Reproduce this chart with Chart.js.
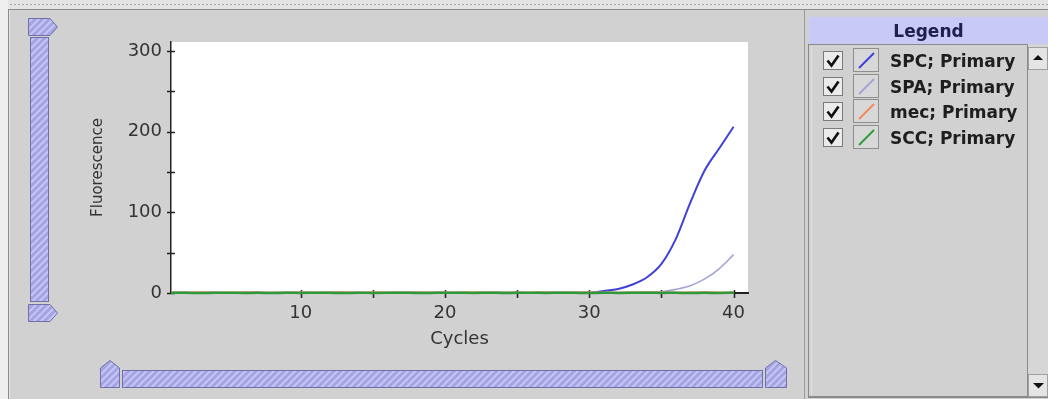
<!DOCTYPE html>
<html><head><meta charset="utf-8">
<script src="https://cdn.jsdelivr.net/npm/chart.js@4.4.0/dist/chart.umd.min.js"></script>
<style>
html,body{margin:0;padding:0;width:1048px;height:399px;overflow:hidden;background:#d1d1d1;}
#chrome{position:absolute;left:0;top:0;}
#c{position:absolute;left:0;top:0;}
.lg{position:absolute;font-family:"DejaVu Sans";font-weight:bold;font-size:17px;color:#1e1e1e;white-space:nowrap;line-height:20px;}
</style></head><body>
<svg id="chrome" width="1048" height="399" xmlns="http://www.w3.org/2000/svg">
<defs>
<pattern id="h" width="5" height="5" patternUnits="userSpaceOnUse" patternTransform="rotate(45)">
<rect width="5" height="5" fill="#a4a4e4"/><rect width="2" height="5" fill="#c6c6f4"/></pattern>
</defs>
<rect x="0" y="0" width="1048" height="9" fill="#e4e4e4"/>
<line x1="10" y1="4.5" x2="1048" y2="4.5" stroke="#a6a6a6" stroke-dasharray="2,2"/>
<rect x="0" y="0" width="8" height="399" fill="#efefef"/>
<line x1="8.5" y1="9" x2="8.5" y2="399" stroke="#8c8c8c"/>
<line x1="8" y1="9.5" x2="1048" y2="9.5" stroke="#8c8c8c"/>
<line x1="9.5" y1="10" x2="9.5" y2="399" stroke="#e4e4e4"/>
<!-- vertical scroller -->
<polygon points="28.5,18.5 50,18.5 57.5,27 50,35.5 28.5,35.5" fill="url(#h)" stroke="#7070a6"/>
<rect x="30.5" y="37.5" width="18" height="264" fill="url(#h)" stroke="#7070a6"/>
<polygon points="28.5,304.5 50,304.5 57.5,313 50,321.5 28.5,321.5" fill="url(#h)" stroke="#7070a6"/>
<!-- horizontal scroller -->
<polygon points="100.5,368 110,360.5 119.5,368 119.5,387.5 100.5,387.5" fill="url(#h)" stroke="#7070a6"/>
<rect x="122.5" y="370.5" width="640" height="17" fill="url(#h)" stroke="#7070a6"/>
<polygon points="765.5,368 775.5,360.5 786.5,368 786.5,387.5 765.5,387.5" fill="url(#h)" stroke="#7070a6"/>
<!-- legend panel -->
<line x1="804.5" y1="10" x2="804.5" y2="399" stroke="#9a9a9a"/>
<rect x="809" y="17" width="239" height="27" fill="#c9c9f7"/>
<rect x="808.5" y="44.5" width="219" height="352" fill="#d1d1d1" stroke="#8a8a8a"/>
<line x1="811.5" y1="46" x2="811.5" y2="395" stroke="#e2e2e2"/>
<rect x="1028" y="45" width="20" height="352" fill="#d6d6d6"/>
<line x1="1027.5" y1="45" x2="1027.5" y2="397" stroke="#8a8a8a"/>
<rect x="1028.5" y="47.5" width="19" height="22" fill="#e4e4e4" stroke="#a0a0a0"/>
<polygon points="1033,60 1043,60 1038,55" fill="#111"/>
<rect x="1028.5" y="374.5" width="19" height="22" fill="#e4e4e4" stroke="#a0a0a0"/>
<polygon points="1033,383 1044,383 1038.5,388.5" fill="#111"/>
<line x1="808" y1="397.5" x2="1048" y2="397.5" stroke="#8a8a8a"/>
<g id="rows"></g>
</svg>
<canvas id="c" width="1048" height="399"></canvas>
<div class="lg" style="left:809px;width:239px;text-align:center;top:21px;color:#20204e;">Legend</div>
<div class="lg" style="left:890px;top:51px;">SPC; Primary</div>
<div class="lg" style="left:890px;top:77px;">SPA; Primary</div>
<div class="lg" style="left:890px;top:102px;">mec; Primary</div>
<div class="lg" style="left:890px;top:128px;">SCC; Primary</div>
<script>
const cycles = [1,2,3,4,5,6,7,8,9,10,11,12,13,14,15,16,17,18,19,20,21,22,23,24,25,26,27,28,29,30,31,32,33,34,35,36,37,38,39,40];
const spc = [0.2,0.4,0.1,0.3,0,0.2,0.4,0.1,0.3,0.2,0.1,0.3,0.4,0.2,0,0.1,0.3,0.2,0.4,0.1,0.2,0,0.3,0.4,0.2,0.1,0.3,0.2,0.4,0.6,2.5,5,10.5,19.5,36,67,112,152,179,206];
const spa = [0.3,0.1,0.2,0.4,0.1,0,0.2,0.3,0.1,0.4,0.2,0.1,0.3,0,0.2,0.4,0.1,0.2,0.3,0.1,0.4,0.2,0,0.1,0.3,0.2,0.4,0.1,0.2,0.3,0.2,0.4,0.5,0.8,1.5,4.5,9,17.5,30,47.5];
const mec = [0.5,0.3,0.6,0.4,0.2,0.5,0.6,0.3,0.4,0.5,0.2,0.4,0.6,0.3,0.5,0.4,0.2,0.6,0.3,0.5,0.4,0.6,0.2,0.3,0.5,0.4,0.6,0.3,0.2,0.5,0.4,0.3,0.6,0.5,0.4,0.3,0.5,0.6,0.4,0.5];
const scc = [0.1,0.3,0,0.2,0.4,0.1,0.2,0,0.3,0.1,0.4,0.2,0,0.3,0.1,0.2,0.4,0,0.1,0.3,0.2,0.1,0.4,0,0.2,0.3,0.1,0.4,0.2,0,0.3,0.1,0.2,0.4,0.1,0.3,0,0.2,0.1,0.3];
const seriesNames = ['SPC; Primary','SPA; Primary','mec; Primary','SCC; Primary'];
const seriesColors = ['#4040dc','#a4a4d6','#f08a5e','#2f9a3c'];
const yTicks = [0,50,100,150,200,250,300];
const yLabels = [0,100,200,300];
const xTicks = [10,15,20,25,30,35,40];
const xLabels = [10,20,30,40];

// legend rows (checkbox + swatch)
const rowY = [61,87,112,138];
const g = document.getElementById('rows');
let svg = '';
rowY.forEach((cy,i)=>{
  svg += `<rect x="823.5" y="${cy-9.5}" width="19" height="18" fill="#ebebeb" stroke="#7a7a7a"/>`;
  svg += `<path d="M827.5,${cy-0.5} L831.5,${cy+4.5} L838.5,${cy-5.5}" fill="none" stroke="#111" stroke-width="2.6"/>`;
  svg += `<rect x="853.5" y="${cy-12.5}" width="25" height="23" fill="#d8d8d8" stroke="#8e8e8e"/>`;
  svg += `<line x1="859" y1="${cy+7}" x2="874" y2="${cy-8}" stroke="${seriesColors[i]}" stroke-width="2"/>`;
});
g.innerHTML = svg;

const whiteBg = {id:'whiteBg', beforeDraw(chart){const {ctx,chartArea:a}=chart;ctx.save();ctx.fillStyle='#ffffff';ctx.fillRect(a.left,a.top,a.right-a.left,a.bottom-a.top);ctx.restore();}};
const crossTicks = {id:'crossTicks', beforeDatasetsDraw(chart){
  const {ctx,chartArea:a,scales:{x,y}}=chart;
  ctx.save();ctx.strokeStyle='#222';ctx.lineWidth=1.5;ctx.beginPath();
  y.ticks.forEach(t=>{const py=Math.round(y.getPixelForValue(t.value))+0.5;ctx.moveTo(a.left-4,py);ctx.lineTo(a.left+4,py);});
  x.ticks.forEach(t=>{const px=Math.round(x.getPixelForValue(t.value))+0.5;ctx.moveTo(px,a.bottom-3);ctx.lineTo(px,a.bottom+5);});
  ctx.stroke();ctx.restore();
}};

const mk = (arr,i,w,ord)=>({label:seriesNames[i],data:cycles.map((c,k)=>({x:c,y:arr[k]})),borderColor:seriesColors[i],borderWidth:w,pointRadius:0,cubicInterpolationMode:'monotone',fill:false,clip:4,order:ord});

new Chart(document.getElementById('c'),{
  type:'line',
  data:{datasets:[mk(spc,0,2,3),mk(spa,1,1.6,2),mk(mec,2,2.5,1),mk(scc,3,2.5,0)]},
  options:{
    responsive:false,animation:false,
    layout:{padding:{left:0,top:42,right:300,bottom:46}},
    plugins:{legend:{display:false},tooltip:{enabled:false}},
    scales:{
      x:{type:'linear',min:1,max:41,
        afterBuildTicks(s){s.ticks=xTicks.map(v=>({value:v}));},
        afterFit(s){s.height=60;s.paddingLeft=0;s.paddingRight=0;},
        grid:{display:false,drawTicks:false},
        border:{display:true,color:'#222',width:2},
        ticks:{padding:10,autoSkip:false,maxRotation:0,color:'#333',font:{family:'DejaVu Sans',size:18},callback:v=>xLabels.includes(v)?String(v):''},
        title:{display:true,text:'Cycles',color:'#333',font:{family:'DejaVu Sans',size:18},padding:{top:0,bottom:3}}
      },
      y:{type:'linear',min:0,max:311,
        afterBuildTicks(s){s.ticks=yTicks.map(v=>({value:v}));},
        afterFit(s){s.width=171;s.paddingTop=0;s.paddingBottom=0;},
        grid:{display:false,drawTicks:false},
        border:{display:true,color:'#222',width:1.5},
        ticks:{padding:9,autoSkip:false,color:'#333',font:{family:'DejaVu Sans',size:18},callback:v=>yLabels.includes(v)?String(v):''},
        title:{display:true,text:'Fluorescence',color:'#333',font:{family:'DejaVu Sans',size:15},padding:{top:89.5,bottom:0}}
      }
    }
  },
  plugins:[whiteBg,crossTicks]
});
</script>
</body></html>
